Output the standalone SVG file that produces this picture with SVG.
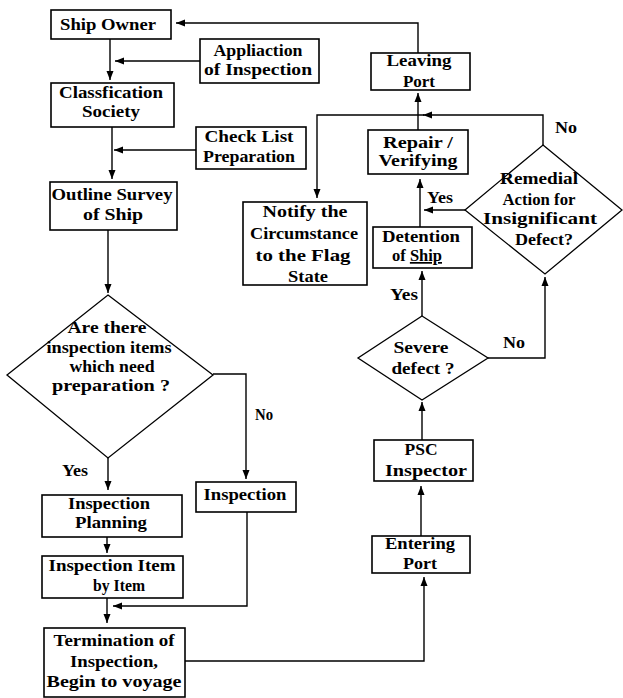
<svg xmlns="http://www.w3.org/2000/svg" width="623" height="698" viewBox="0 0 623 698">
<style>
.box{fill:#fff;stroke:#000;stroke-width:1.6}
.dia{fill:#fff;stroke:#000;stroke-width:1.3}
.t{font-family:"Liberation Serif","DejaVu Serif",serif;font-weight:bold;font-size:17px;fill:#000;text-anchor:middle}
.c{fill:none;stroke:#000;stroke-width:1.4}
</style>
<defs>
<marker id="ah" markerUnits="userSpaceOnUse" markerWidth="10" markerHeight="8" refX="9" refY="4" orient="auto">
<path d="M0,0.5 L9,4 L0,7.5 z" fill="#000"/>
</marker>
</defs>
<rect width="623" height="698" fill="#fff"/>
<g id="connectors">
<path class="c" d="M418,53 V23 H176" marker-end="url(#ah)"/>
<path class="c" d="M200,61 H115" marker-end="url(#ah)"/>
<path class="c" d="M110,39 V80" marker-end="url(#ah)"/>
<path class="c" d="M196,150 H114" marker-end="url(#ah)"/>
<path class="c" d="M112,127 V179" marker-end="url(#ah)"/>
<path class="c" d="M108,230 V293" marker-end="url(#ah)"/>
<path class="c" d="M213,374 H246 V479" marker-end="url(#ah)"/>
<path class="c" d="M108,458 V490" marker-end="url(#ah)"/>
<path class="c" d="M107,537 V553" marker-end="url(#ah)"/>
<path class="c" d="M247,512 V606 H113" marker-end="url(#ah)"/>
<path class="c" d="M107,598 V623" marker-end="url(#ah)"/>
<path class="c" d="M185,661 H424 V577" marker-end="url(#ah)"/>
<path class="c" d="M421,536 V486" marker-end="url(#ah)"/>
<path class="c" d="M422,440 V402" marker-end="url(#ah)"/>
<path class="c" d="M422,316 V271" marker-end="url(#ah)"/>
<path class="c" d="M488,358 H545 V277" marker-end="url(#ah)"/>
<path class="c" d="M420,227 V179" marker-end="url(#ah)"/>
<path class="c" d="M465,210 H424" marker-end="url(#ah)"/>
<path class="c" d="M418,130 V93" marker-end="url(#ah)"/>
<path class="c" d="M543,145 V115 H423" marker-end="url(#ah)"/>
<path class="c" d="M424,115 H317 V198" marker-end="url(#ah)"/>
</g>
<g id="ship-owner">
<rect class="box" x="51" y="10" width="120" height="29"/>
<text class="t" x="108" y="30" textLength="96" lengthAdjust="spacingAndGlyphs">Ship Owner</text>
</g>
<g id="application">
<rect class="box" x="200" y="39" width="119" height="44"/>
<text class="t" x="258" y="56" textLength="89" lengthAdjust="spacingAndGlyphs">Appliaction</text>
<text class="t" x="258" y="75" textLength="108" lengthAdjust="spacingAndGlyphs">of Inspection</text>
</g>
<g id="classification">
<rect class="box" x="51" y="83" width="123" height="44"/>
<text class="t" x="111" y="98" textLength="104" lengthAdjust="spacingAndGlyphs">Classfication</text>
<text class="t" x="111" y="117" textLength="58" lengthAdjust="spacingAndGlyphs">Society</text>
</g>
<g id="checklist">
<rect class="box" x="196" y="127" width="110" height="42"/>
<text class="t" x="249" y="142" textLength="89" lengthAdjust="spacingAndGlyphs">Check List</text>
<text class="t" x="249" y="162" textLength="92" lengthAdjust="spacingAndGlyphs">Preparation</text>
</g>
<g id="outline-survey">
<rect class="box" x="50" y="182" width="127" height="48"/>
<text class="t" x="112" y="200" textLength="121" lengthAdjust="spacingAndGlyphs">Outline Survey</text>
<text class="t" x="113" y="220" textLength="60" lengthAdjust="spacingAndGlyphs">of Ship</text>
</g>
<g id="prep-decision">
<polygon class="dia" points="108,295 213,375 108,458 7,375"/>
<text class="t" x="107" y="333" textLength="79" lengthAdjust="spacingAndGlyphs">Are there</text>
<text class="t" x="109" y="353" textLength="125" lengthAdjust="spacingAndGlyphs">inspection items</text>
<text class="t" x="112" y="372" textLength="85" lengthAdjust="spacingAndGlyphs">which need</text>
<text class="t" x="111" y="391" textLength="118" lengthAdjust="spacingAndGlyphs">preparation ?</text>
</g>
<g id="labels">
<text class="t" x="75" y="476" textLength="26" lengthAdjust="spacingAndGlyphs">Yes</text>
<text class="t" x="264" y="420" textLength="18" lengthAdjust="spacingAndGlyphs">No</text>
<text class="t" x="440" y="203" textLength="26" lengthAdjust="spacingAndGlyphs">Yes</text>
<text class="t" x="566" y="133" textLength="22" lengthAdjust="spacingAndGlyphs">No</text>
<text class="t" x="404" y="300" textLength="28" lengthAdjust="spacingAndGlyphs">Yes</text>
<text class="t" x="514" y="348" textLength="22" lengthAdjust="spacingAndGlyphs">No</text>
</g>
<g id="inspection-planning">
<rect class="box" x="42" y="495" width="140" height="42"/>
<text class="t" x="109" y="509" textLength="82" lengthAdjust="spacingAndGlyphs">Inspection</text>
<text class="t" x="111" y="528" textLength="72" lengthAdjust="spacingAndGlyphs">Planning</text>
</g>
<g id="inspection">
<rect class="box" x="196" y="482" width="100" height="30"/>
<text class="t" x="245" y="500" textLength="83" lengthAdjust="spacingAndGlyphs">Inspection</text>
</g>
<g id="inspection-item">
<rect class="box" x="42" y="556" width="141" height="42"/>
<text class="t" x="112" y="571" textLength="127" lengthAdjust="spacingAndGlyphs">Inspection Item</text>
<text class="t" x="119" y="591" textLength="52" lengthAdjust="spacingAndGlyphs">by Item</text>
</g>
<g id="termination">
<rect class="box" x="44" y="628" width="141" height="69"/>
<text class="t" x="114" y="646" textLength="121" lengthAdjust="spacingAndGlyphs">Termination of</text>
<text class="t" x="114" y="667" textLength="88" lengthAdjust="spacingAndGlyphs">Inspection,</text>
<text class="t" x="114" y="687" textLength="135" lengthAdjust="spacingAndGlyphs">Begin to voyage</text>
</g>
<g id="leaving-port">
<rect class="box" x="371" y="53" width="99" height="37"/>
<text class="t" x="419" y="66" textLength="65" lengthAdjust="spacingAndGlyphs">Leaving</text>
<text class="t" x="419" y="87" textLength="32" lengthAdjust="spacingAndGlyphs">Port</text>
</g>
<g id="notify">
<rect class="box" x="243" y="202" width="124" height="83"/>
<text class="t" x="305" y="217" textLength="85" lengthAdjust="spacingAndGlyphs">Notify the</text>
<text class="t" x="304" y="239" textLength="108" lengthAdjust="spacingAndGlyphs">Circumstance</text>
<text class="t" x="303" y="261" textLength="95" lengthAdjust="spacingAndGlyphs">to the Flag</text>
<text class="t" x="308" y="282" textLength="40" lengthAdjust="spacingAndGlyphs">State</text>
</g>
<g id="repair">
<rect class="box" x="368" y="130" width="100" height="44"/>
<text class="t" x="418" y="148" textLength="70" lengthAdjust="spacingAndGlyphs">Repair /</text>
<text class="t" x="418" y="166" textLength="79" lengthAdjust="spacingAndGlyphs">Verifying</text>
</g>
<g id="remedial-decision">
<polygon class="dia" points="543,145 622,210 545,274 465,210"/>
<text class="t" x="539" y="184" textLength="78" lengthAdjust="spacingAndGlyphs">Remedial</text>
<text class="t" x="539" y="205" textLength="73" lengthAdjust="spacingAndGlyphs">Action for</text>
<text class="t" x="540" y="224" textLength="114" lengthAdjust="spacingAndGlyphs">Insignificant</text>
<text class="t" x="544" y="245" textLength="58" lengthAdjust="spacingAndGlyphs">Defect?</text>
</g>
<g id="detention">
<rect class="box" x="373" y="227" width="99" height="41"/>
<text class="t" x="421" y="242" textLength="78" lengthAdjust="spacingAndGlyphs">Detention</text>
<text class="t" x="417" y="261" textLength="50" lengthAdjust="spacingAndGlyphs">of <tspan text-decoration="underline">Ship</tspan></text>
</g>
<g id="severe-decision">
<polygon class="dia" points="422,316 488,358 422,400 358,358"/>
<text class="t" x="421" y="353" textLength="55" lengthAdjust="spacingAndGlyphs">Severe</text>
<text class="t" x="423" y="374" textLength="63" lengthAdjust="spacingAndGlyphs">defect ?</text>
</g>
<g id="psc-inspector">
<rect class="box" x="374" y="440" width="99" height="41"/>
<text class="t" x="421" y="455" textLength="33" lengthAdjust="spacingAndGlyphs">PSC</text>
<text class="t" x="426" y="476" textLength="82" lengthAdjust="spacingAndGlyphs">Inspector</text>
</g>
<g id="entering-port">
<rect class="box" x="372" y="536" width="98" height="37"/>
<text class="t" x="420" y="549" textLength="70" lengthAdjust="spacingAndGlyphs">Entering</text>
<text class="t" x="420" y="569" textLength="34" lengthAdjust="spacingAndGlyphs">Port</text>
</g>
</svg>
